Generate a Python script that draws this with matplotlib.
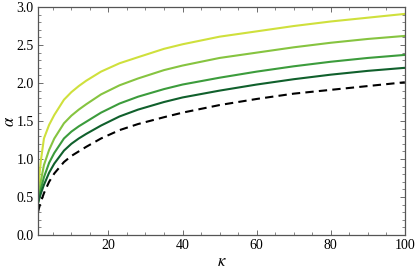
import numpy as np
import matplotlib
matplotlib.use('Agg')
import matplotlib.pyplot as plt
from matplotlib.ticker import MultipleLocator

# values
kappa = [1, 1.3, 1.8, 2.6, 4, 5.4, 8, 10, 12, 14, 18, 23, 28, 35, 40, 50, 60, 70, 80, 90, 100]
alpha_a = [0.45, 0.75, 0.99, 1.27, 1.45, 1.58, 1.78, 1.88, 1.96, 2.03, 2.15, 2.26, 2.34, 2.45, 2.51, 2.61, 2.68, 2.75, 2.81, 2.86, 2.91]
alpha_b = [0.43, 0.55, 0.72, 0.92, 1.12, 1.27, 1.47, 1.57, 1.65, 1.72, 1.85, 1.97, 2.06, 2.17, 2.23, 2.33, 2.40, 2.47, 2.53, 2.58, 2.62]
alpha_c = [0.42, 0.50, 0.61, 0.76, 0.95, 1.08, 1.27, 1.36, 1.43, 1.49, 1.61, 1.73, 1.82, 1.92, 1.98, 2.07, 2.15, 2.22, 2.28, 2.33, 2.37]
alpha_d = [0.42, 0.47, 0.55, 0.66, 0.82, 0.94, 1.11, 1.20, 1.27, 1.33, 1.44, 1.56, 1.65, 1.75, 1.81, 1.90, 1.98, 2.05, 2.11, 2.16, 2.20]
alpha_ref = [0.30, 0.36, 0.44, 0.55, 0.70, 0.81, 0.96, 1.04, 1.10, 1.16, 1.27, 1.38, 1.46, 1.55, 1.61, 1.71, 1.79, 1.86, 1.91, 1.96, 2.01]

colors = ['#cfe03c', '#86c440', '#3c9c3c', '#10602c']

plt.rcParams['font.family'] = ['Liberation Serif', 'DejaVu Serif']
plt.rcParams['mathtext.fontset'] = 'stix'

fig = plt.figure(figsize=(4.15, 2.71), dpi=100)
ax = fig.add_axes([0.0916, 0.133, 0.884, 0.841])

for y, c in zip([alpha_a, alpha_b, alpha_c, alpha_d], colors):
    ax.plot(kappa, y, color=c, lw=1.5)
ax.plot(kappa, alpha_ref, color='black', lw=1.5, ls=(0, (4, 2.5)))

ax.set_xlim(1, 100)
ax.set_ylim(0, 3)
ax.xaxis.set_major_locator(MultipleLocator(20))
ax.xaxis.set_minor_locator(MultipleLocator(5))
ax.yaxis.set_major_locator(MultipleLocator(0.5))
ax.yaxis.set_minor_locator(MultipleLocator(0.1))
ax.yaxis.set_major_formatter(plt.FuncFormatter(lambda v, p: '%.1f' % v))
ax.tick_params(which='both', direction='in', top=True, right=True, labelsize=10, color='#555555')
ax.tick_params(which='major', length=3.5, width=0.6, pad=3)
ax.tick_params(which='minor', length=2, width=0.5)
for s in ax.spines.values():
    s.set_color('#555555')
    s.set_linewidth(0.9)

ax.set_xlabel(r'$\kappa$', fontsize=12, labelpad=1)
ax.set_ylabel(r'$\alpha$', fontsize=12)
ax.yaxis.set_label_coords(-0.055, 0.5)

fig.savefig('out.png', dpi=100)
